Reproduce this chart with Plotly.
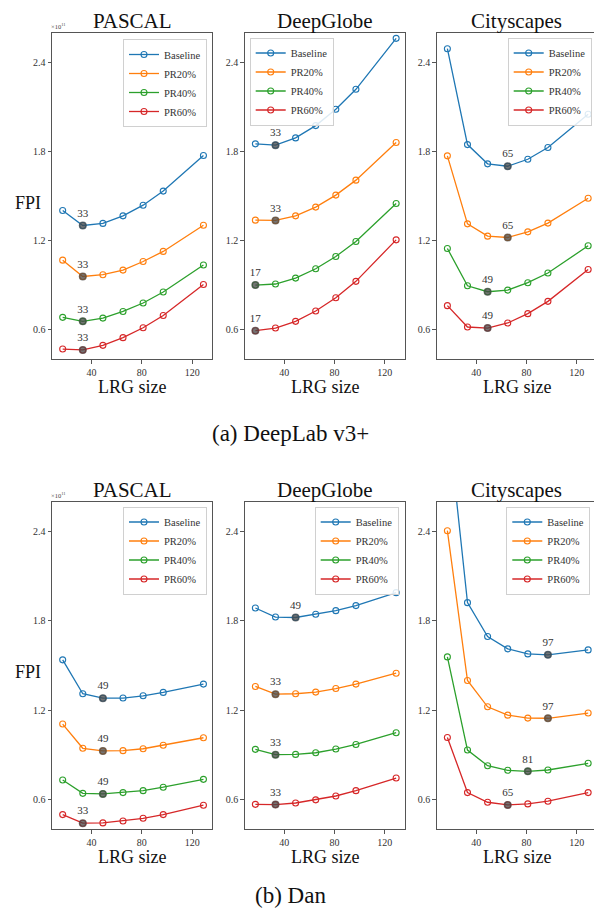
import plotly.graph_objects as go

lrg_sizes = [17, 33, 49, 65, 81, 97, 129]
series_names = ["Baseline", "PR20%", "PR40%", "PR60%"]
colors = ["#1f77b4", "#ff7f0e", "#2ca02c", "#d62728"]
datasets = ["PASCAL", "DeepGlobe", "Cityscapes"]
y_ticks = [0.6, 1.2, 1.8, 2.4]
x_ticks = [40, 80, 120]

# (a) DeepLab v3+  -- FPI in units of 1e11
deeplab_pascal = [
    [1.402, 1.301, 1.315, 1.366, 1.438, 1.533, 1.773],
    [1.067, 0.957, 0.969, 1.000, 1.058, 1.126, 1.303],
    [0.681, 0.654, 0.676, 0.721, 0.778, 0.852, 1.034],
    [0.467, 0.461, 0.492, 0.544, 0.611, 0.694, 0.903],
]
deeplab_deepglobe = [
    [1.852, 1.843, 1.892, 1.975, 2.085, 2.220, 2.564],
    [1.337, 1.335, 1.366, 1.425, 1.506, 1.607, 1.861],
    [0.899, 0.906, 0.946, 1.009, 1.092, 1.193, 1.449],
    [0.591, 0.609, 0.654, 0.724, 0.813, 0.924, 1.204],
]
deeplab_cityscapes = [
    [2.494, 1.847, 1.717, 1.701, 1.748, 1.827, 2.052],
    [1.771, 1.312, 1.229, 1.220, 1.258, 1.317, 1.485],
    [1.146, 0.894, 0.854, 0.865, 0.915, 0.980, 1.164],
    [0.760, 0.616, 0.609, 0.643, 0.706, 0.789, 1.004],
]
# (b) Dan
dan_pascal = [
    [1.538, 1.310, 1.280, 1.281, 1.296, 1.319, 1.375],
    [1.106, 0.943, 0.925, 0.927, 0.940, 0.963, 1.014],
    [0.730, 0.640, 0.636, 0.645, 0.658, 0.681, 0.734],
    [0.497, 0.439, 0.441, 0.454, 0.472, 0.497, 0.560],
]
dan_deepglobe = [
    [1.887, 1.826, 1.823, 1.845, 1.869, 1.903, 1.990],
    [1.359, 1.307, 1.310, 1.321, 1.345, 1.375, 1.448],
    [0.936, 0.900, 0.902, 0.913, 0.938, 0.969, 1.048],
    [0.566, 0.564, 0.575, 0.596, 0.622, 0.658, 0.743],
]
dan_cityscapes = [
    [3.190, 1.923, 1.695, 1.612, 1.578, 1.572, 1.605],
    [2.407, 1.399, 1.222, 1.166, 1.146, 1.145, 1.180],
    [1.558, 0.931, 0.826, 0.795, 0.788, 0.797, 0.842],
    [1.016, 0.645, 0.580, 0.562, 0.569, 0.587, 0.645],
]

panels = [deeplab_pascal, deeplab_deepglobe, deeplab_cityscapes,
          dan_pascal, dan_deepglobe, dan_cityscapes]

W, H = 602, 908
FONT = "Liberation Serif"
col_px = [(44, 204), (236.7, 396.7), (428.7, 588.7)]
row_px = [(25, 351), (494, 821)]
# legend anchors (px): (x, y, xanchor)
legend_pos = [
    (199, 31, "right"), (241.7, 29.5, "left"), (583.7, 29.5, "right"),
    (199, 498.5, "right"), (390.7, 498.5, "right"), (582.3, 498.5, "right"),
]

fig = go.Figure()
layout = dict(width=W, height=H, margin=dict(l=0, r=0, t=0, b=0),
              paper_bgcolor="white", plot_bgcolor="white", showlegend=True)
annotations = []

for i, data in enumerate(panels):
    r, c = divmod(i, 3)
    k = i + 1
    xa = "x" if k == 1 else f"x{k}"
    ya = "y" if k == 1 else f"y{k}"
    lg = "legend" if k == 1 else f"legend{k}"
    x0, x1 = col_px[c]
    y0, y1 = row_px[r]
    axis_common = dict(showline=True, mirror=True, linecolor="#555", linewidth=1,
                       ticks="outside", ticklen=3.5, tickcolor="#555", tickwidth=1,
                       showgrid=False, zeroline=False,
                       tickfont=dict(family=FONT, size=10, color="#333"))
    layout[f"xaxis{k}"] = dict(domain=[x0 / W, x1 / W], anchor=ya, range=[8.5, 135.8],
                               tickvals=x_ticks, **axis_common)
    layout[f"yaxis{k}"] = dict(domain=[1 - y1 / H, 1 - y0 / H], anchor=xa, range=[0.4, 2.6],
                               tickvals=y_ticks, ticktext=[f"{v:.1f}" for v in y_ticks],
                               **axis_common)
    lx, ly, lxa = legend_pos[i]
    layout[lg] = dict(x=lx / W, y=1 - ly / H, xanchor=lxa, yanchor="top",
                      xref="paper", yref="paper",
                      bgcolor="rgba(255,255,255,0.85)", bordercolor="#d0d0d0", borderwidth=1,
                      font=dict(family=FONT, size=10.5, color="#333"),
                      itemwidth=30, tracegroupgap=0)
    for s, (name, col) in enumerate(zip(series_names, colors)):
        ys = data[s]
        fig.add_trace(go.Scatter(
            x=lrg_sizes, y=ys, mode="lines+markers", name=name, legend=lg,
            xaxis=xa, yaxis=ya,
            line=dict(color=col, width=1.3),
            marker=dict(symbol="circle-open", size=6, color=col, line=dict(width=1.1)),
        ))
        j = min(range(len(ys)), key=lambda t: ys[t])
        fig.add_trace(go.Scatter(
            x=[lrg_sizes[j]], y=[ys[j]], mode="markers+text", showlegend=False,
            xaxis=xa, yaxis=ya, text=[str(lrg_sizes[j])], textposition="top center",
            textfont=dict(family=FONT, size=11, color="#333"),
            marker=dict(size=8, color="rgba(70,70,70,0.75)"),
        ))
    # titles
    annotations.append(dict(text=datasets[c], x=(x0 + x1) / 2 / W, y=1 - (y0 - 12) / H,
                            xref="paper", yref="paper", xanchor="center", yanchor="middle",
                            showarrow=False, font=dict(family=FONT, size=21, color="#111")))
    annotations.append(dict(text="LRG size", x=(x0 + x1) / 2 / W, y=1 - (y1 + 28) / H,
                            xref="paper", yref="paper", xanchor="center", yanchor="middle",
                            showarrow=False, font=dict(family=FONT, size=18, color="#111")))
    if c == 0:
        annotations.append(dict(text="FPI", x=20 / W, y=1 - (y0 + 170) / H,
                                xref="paper", yref="paper", xanchor="center", yanchor="middle",
                                showarrow=False, font=dict(family=FONT, size=18, color="#111")))
        annotations.append(dict(text="×10<sup>11</sup>", x=(x0 - 3) / W, y=1 - (y0 - 1) / H,
                                xref="paper", yref="paper", xanchor="left", yanchor="bottom",
                                showarrow=False, font=dict(family=FONT, size=6.5, color="#444")))

annotations.append(dict(text="(a) DeepLab v3+", x=282 / W, y=1 - 425 / H, xref="paper", yref="paper",
                        xanchor="center", yanchor="middle", showarrow=False,
                        font=dict(family=FONT, size=23, color="#111")))
annotations.append(dict(text="(b) Dan", x=282 / W, y=1 - 887 / H, xref="paper", yref="paper",
                        xanchor="center", yanchor="middle", showarrow=False,
                        font=dict(family=FONT, size=23, color="#111")))
layout["annotations"] = annotations
fig.update_layout(**layout)
fig.write_html("out.html")
